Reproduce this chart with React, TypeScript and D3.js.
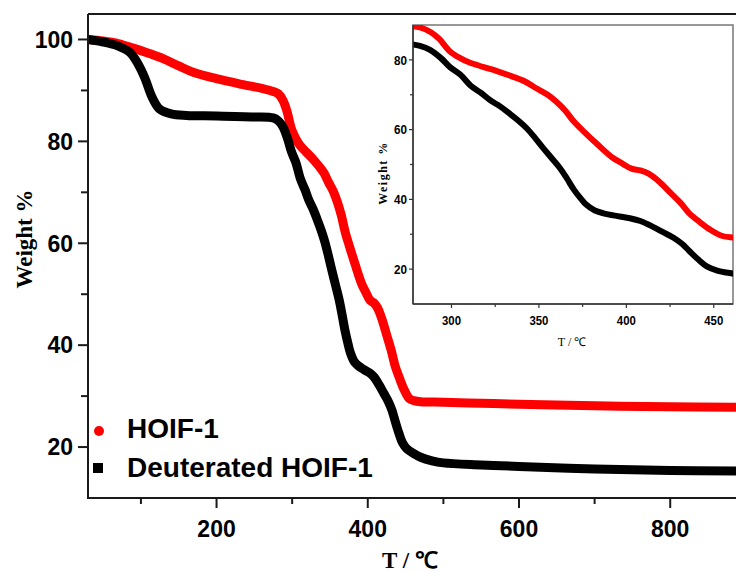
import React from "react";
import * as d3 from "d3";

// HOIF-1 (red)
const hoifTemp = [30, 50, 70, 90, 110, 130, 150, 170, 200, 230, 260, 275, 282, 288, 293, 299, 305, 310, 318, 326, 335, 342, 348, 355, 360, 365, 370, 376, 383, 392, 398, 403, 408, 413, 419, 425, 431, 436, 442, 448, 455, 461, 470, 500, 550, 600, 700, 800, 887];
const hoifWeight = [100, 99.7, 99.2, 98.3, 97.3, 96.2, 94.8, 93.5, 92.3, 91.3, 90.4, 89.8, 89.3, 88, 86, 82.5, 80.5, 79.3, 78, 76.8, 75.2, 73.8, 72, 70, 68, 65.5, 62.3, 59.3, 56, 52, 50.2, 48.8, 48.3, 47.3, 45, 42, 39, 36, 33.5, 31.3, 29.5, 29.1, 28.9, 28.8, 28.6, 28.4, 28.1, 27.9, 27.8];

// Deuterated HOIF-1 (black)
const deutTemp = [30, 50, 70, 85, 95, 105, 115, 125, 140, 160, 200, 250, 275, 282, 288, 294, 299, 305, 311, 317, 322, 328, 333, 338, 343, 348, 352, 357, 362, 366, 370, 374, 377, 382, 387, 395, 402, 408, 415, 421, 427, 432, 436, 441, 446, 452, 460, 470, 485, 500, 550, 600, 700, 800, 887];
const deutWeight = [100, 99.5, 98.7, 97.5, 95.5, 92.5, 88.6, 86.3, 85.4, 85.1, 85, 84.8, 84.6, 84, 82.8, 80.5, 78, 75.8, 72.6, 70.5, 68.5, 66.6, 64.7, 62.7, 60.4, 57.5, 55, 52, 49, 46, 42.8, 40.2, 38.5, 36.8, 36, 35.2, 34.6, 33.8, 32.2, 30.6, 29, 27.2, 25.2, 22.8, 20.8, 19.6, 18.8, 18, 17.3, 16.9, 16.5, 16.2, 15.7, 15.4, 15.3];

const mainXTicks = [200, 400, 600, 800];
const mainXMinor = [100, 300, 500, 700];
const mainYTicks = [20, 40, 60, 80, 100];
const mainYMinor = [30, 50, 70, 90];
const insetXTicks = [300, 350, 400, 450];
const insetXMinor = [325, 375, 425];
const insetYTicks = [20, 40, 60, 80];
const insetYMinor = [30, 50, 70];

const seriesNames = ["HOIF-1", "Deuterated HOIF-1"];
const seriesColors = ["#ff0000", "#000000"];

type P = [number, number];
const zip = (t: number[], w: number[]): P[] => t.map((v, i) => [v, w[i]]);

export default function App() {
  const series = [zip(hoifTemp, hoifWeight), zip(deutTemp, deutWeight)];

  // main
  const x = d3.scaleLinear().domain([30, 887]).range([88, 736]);
  const y = d3.scaleLinear().domain([10, 105]).range([498, 14]);
  const line = d3
    .line<P>()
    .x((d) => x(d[0]))
    .y((d) => y(d[1]))
    .curve(d3.curveCatmullRom.alpha(0.5));

  // inset
  const ix = d3.scaleLinear().domain([278, 461]).range([413, 733]);
  const iy = d3.scaleLinear().domain([10, 90]).range([304, 25]);
  const iline = d3
    .line<P>()
    .x((d) => ix(d[0]))
    .y((d) => iy(d[1]))
    .curve(d3.curveCatmullRom.alpha(0.5));

  const sans = "'Liberation Sans', Arial, sans-serif";
  const serif = "'Liberation Serif', 'Times New Roman', serif";
  const axisCol = "#1a1a1a";

  return (
    <svg
      width={736}
      height={572}
      style={{ position: "absolute", left: 0, top: 0, background: "#fff" }}
    >
      <defs>
        <clipPath id="mainClip">
          <rect x={88} y={14} width={650} height={484} />
        </clipPath>
        <clipPath id="insetClip">
          <rect x={ix.range()[0]} y={iy.range()[1]} width={ix.range()[1] - ix.range()[0]} height={iy.range()[0] - iy.range()[1]} />
        </clipPath>
      </defs>
      <rect x={0} y={0} width={736} height={572} fill="#fff" />

      {/* main curves */}
      <g clipPath="url(#mainClip)">
        {series.map((s, i) => (
          <path
            key={i}
            d={line(s) || ""}
            fill="none"
            stroke={seriesColors[i]}
            strokeWidth={9}
            strokeLinejoin="round"
            strokeLinecap="round"
          />
        ))}
      </g>

      {/* main axes */}
      <line x1={88} x2={736} y1={14} y2={14} stroke={axisCol} strokeWidth={2} />
      <line x1={88} x2={88} y1={14} y2={499} stroke={axisCol} strokeWidth={2} />
      <line x1={87} x2={736} y1={498} y2={498} stroke={axisCol} strokeWidth={2} />
      {mainYTicks.map((t) => (
        <g key={"my" + t}>
          <line x1={78} x2={88} y1={y(t)} y2={y(t)} stroke={axisCol} strokeWidth={2} />
          <text x={73} y={y(t)} dy="0.36em" textAnchor="end" fontFamily={sans} fontWeight="bold" fontSize={23}>
            {t}
          </text>
        </g>
      ))}
      {mainYMinor.map((t) => (
        <line key={"mym" + t} x1={81} x2={88} y1={y(t)} y2={y(t)} stroke={axisCol} strokeWidth={2} />
      ))}
      {mainXTicks.map((t) => (
        <g key={"mx" + t}>
          <line x1={x(t)} x2={x(t)} y1={498} y2={508} stroke={axisCol} strokeWidth={2} />
          <text x={x(t)} y={537} textAnchor="middle" fontFamily={sans} fontWeight="bold" fontSize={23}>
            {t}
          </text>
        </g>
      ))}
      {mainXMinor.map((t) => (
        <line key={"mxm" + t} x1={x(t)} x2={x(t)} y1={498} y2={504} stroke={axisCol} strokeWidth={2} />
      ))}
      <text x={410} y={568} textAnchor="middle" fontFamily={serif} fontWeight="bold" fontSize={23}>
        T / ℃
      </text>
      <text
        transform="translate(32,239) rotate(-90)"
        textAnchor="middle"
        fontFamily={serif}
        fontWeight="bold"
        fontSize={23}
      >
        Weight %
      </text>

      {/* legend */}
      <circle cx={99} cy={431} r={5} fill={seriesColors[0]} />
      <text x={127} y={438} fontFamily={sans} fontWeight="bold" fontSize={28}>
        {seriesNames[0]}
      </text>
      <rect x={93} y={463} width={10} height={10} fill={seriesColors[1]} />
      <text x={127} y={477} fontFamily={sans} fontWeight="bold" fontSize={28}>
        {seriesNames[1]}
      </text>

      {/* inset */}
      <rect x={413} y={25} width={320} height={279} fill="#fff" stroke="#777" strokeWidth={1.5} />
      <g clipPath="url(#insetClip)">
        {series.map((s, i) => (
          <path
            key={"i" + i}
            d={iline(s) || ""}
            fill="none"
            stroke={seriesColors[i]}
            strokeWidth={6}
            strokeLinejoin="round"
            strokeLinecap="round"
          />
        ))}
      </g>
      <line x1={413} x2={413} y1={25} y2={304} stroke="#333" strokeWidth={1.5} />
      <line x1={413} x2={733} y1={304} y2={304} stroke="#333" strokeWidth={1.5} />
      {insetYTicks.map((t) => (
        <g key={"iy" + t}>
          <line x1={409} x2={413} y1={iy(t)} y2={iy(t)} stroke="#333" strokeWidth={1.2} />
          <text x={407} y={iy(t)} dy="0.36em" textAnchor="end" fontFamily={sans} fontWeight="bold" fontSize={13} textLength={13} lengthAdjust="spacingAndGlyphs">
            {t}
          </text>
        </g>
      ))}
      {insetYMinor.map((t) => (
        <line key={"iym" + t} x1={410} x2={413} y1={iy(t)} y2={iy(t)} stroke="#333" strokeWidth={1.2} />
      ))}
      {insetXTicks.map((t) => (
        <g key={"ix" + t}>
          <line x1={ix(t)} x2={ix(t)} y1={304} y2={308} stroke="#333" strokeWidth={1.2} />
          <text x={ix(t)} y={325} textAnchor="middle" fontFamily={sans} fontWeight="bold" fontSize={13} textLength={19} lengthAdjust="spacingAndGlyphs">
            {t}
          </text>
        </g>
      ))}
      {insetXMinor.map((t) => (
        <line key={"ixm" + t} x1={ix(t)} x2={ix(t)} y1={304} y2={307} stroke="#333" strokeWidth={1.2} />
      ))}
      <text x={572} y={346} textAnchor="middle" fontFamily={serif} fontSize={12}>
        T / ℃
      </text>
      <text
        transform="translate(387,173) rotate(-90)"
        textAnchor="middle"
        fontFamily={serif}
        fontWeight="bold"
        fontSize={12}
        letterSpacing={1.5}
      >
        Weight %
      </text>
    </svg>
  );
}
